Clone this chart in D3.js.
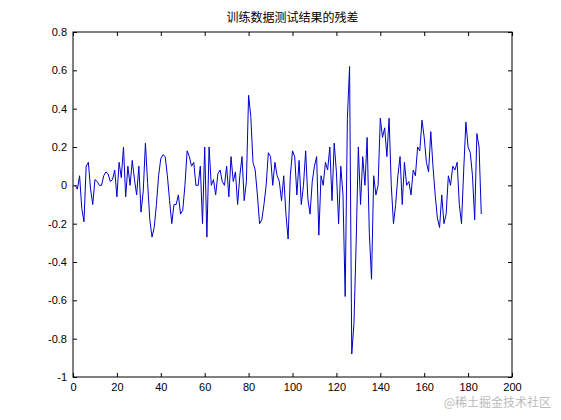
<!DOCTYPE html><html><head><meta charset="utf-8"><script src="https://cdn.jsdelivr.net/npm/d3@7"></script>
<style>body{margin:0;background:#fff}</style></head><body><svg id="c" width="561" height="420"></svg><script>
const residuals=[0,-0.02,0.05,-0.12,-0.19,0.1,0.12,-0.02,-0.1,0.03,
0.02,0,0,0.05,0.07,0.06,0.02,0.03,0.08,-0.06,
0.12,0.04,0.2,-0.06,0.1,0,0.13,0.03,-0.05,0.1,
-0.14,-0.03,0.22,0.01,-0.18,-0.27,-0.22,-0.1,0.05,0.14,
0.16,0.15,0.05,-0.08,-0.2,-0.1,-0.1,-0.05,-0.15,-0.13,
0,0.18,0.15,0.1,0.12,0,0,0.1,-0.2,0.2,
-0.27,0.2,0,0.03,-0.05,0.06,0.08,0.02,0,0.1,
-0.06,0.15,0.02,0.07,-0.1,0.05,0.15,-0.08,0.02,0.47,
0.36,0.12,0.08,-0.05,-0.2,-0.18,-0.1,0,0.17,0.15,
0,0.12,0.05,0.02,-0.08,0.05,-0.15,-0.28,0.05,0.18,
0.15,-0.05,0.13,-0.1,0,0.18,-0.07,-0.15,0.02,0.1,
0.15,-0.26,0.05,0,0.12,0.08,0.2,-0.08,0.22,0.07,
-0.2,0.1,-0.05,-0.58,0.35,0.62,-0.88,-0.72,-0.3,0.2,
-0.1,0.15,0,0.25,-0.25,-0.49,0.05,-0.05,0,0.35,
0.25,0.3,0.15,0.35,0,-0.2,-0.1,0.05,0.15,-0.1,
0.12,0,0.02,-0.05,0.08,0.05,0.2,0.18,0.34,0.25,
0.12,0.07,0.28,0.1,-0.05,-0.17,-0.22,-0.05,-0.2,-0.15,
0.05,0,0.1,0.08,0.12,-0.1,-0.2,0.08,0.33,0.2,
0.17,0.05,-0.18,0.27,0.2,-0.15];
const xTicks=[0,20,40,60,80,100,120,140,160,180,200];
const yTicks=[-1,-0.8,-0.6,-0.4,-0.2,0,0.2,0.4,0.6,0.8];
const svg=d3.select("#c");
const L=73,R=512,T=32,B=377;
const x=d3.scaleLinear().domain([0,200]).range([L,R]);
const y=d3.scaleLinear().domain([-1,0.8]).range([B,T]);
const f="Arial, 'Liberation Sans', sans-serif";
svg.append("rect").attr("x",L).attr("y",T).attr("width",R-L).attr("height",B-T).attr("fill","#fff").attr("stroke","#000");
const fmt=d=>d===0?"0":String(d).replace(/^(-?)0\./,"$10.");
const gx=svg.append("g").attr("transform",`translate(0,${B})`).call(d3.axisBottom(x).tickValues(xTicks).tickSize(-4).tickPadding(6).tickFormat(d3.format("d")));
const gx2=svg.append("g").attr("transform",`translate(0,${T})`).call(d3.axisTop(x).tickValues(xTicks).tickSize(-4).tickFormat(""));
const gy=svg.append("g").attr("transform",`translate(${L},0)`).call(d3.axisLeft(y).tickValues(yTicks).tickSize(-4).tickPadding(6).tickFormat(fmt));
const gy2=svg.append("g").attr("transform",`translate(${R},0)`).call(d3.axisRight(y).tickValues(yTicks).tickSize(-4).tickFormat(""));
[gx,gx2,gy,gy2].forEach(g=>{g.select(".domain").remove();g.selectAll("line").attr("stroke","#000");g.selectAll("text").attr("font-family",f).attr("font-size",11).attr("fill","#000");});
svg.append("path").datum(residuals).attr("fill","none").attr("stroke","#0000cc").attr("stroke-width",1)
 .attr("d",d3.line().x((d,i)=>x(i+1)).y(d=>y(d)));
svg.append("text").attr("x",(L+R)/2).attr("y",22).attr("text-anchor","middle").attr("font-family","'Noto Sans CJK SC'").attr("font-size",12).text("训练数据测试结果的残差");
svg.append("text").attr("x",551).attr("y",407).attr("text-anchor","end").attr("font-family","'Noto Sans CJK SC'").attr("font-size",12).attr("fill","#bbb").text("@稀土掘金技术社区");
</script></body></html>
